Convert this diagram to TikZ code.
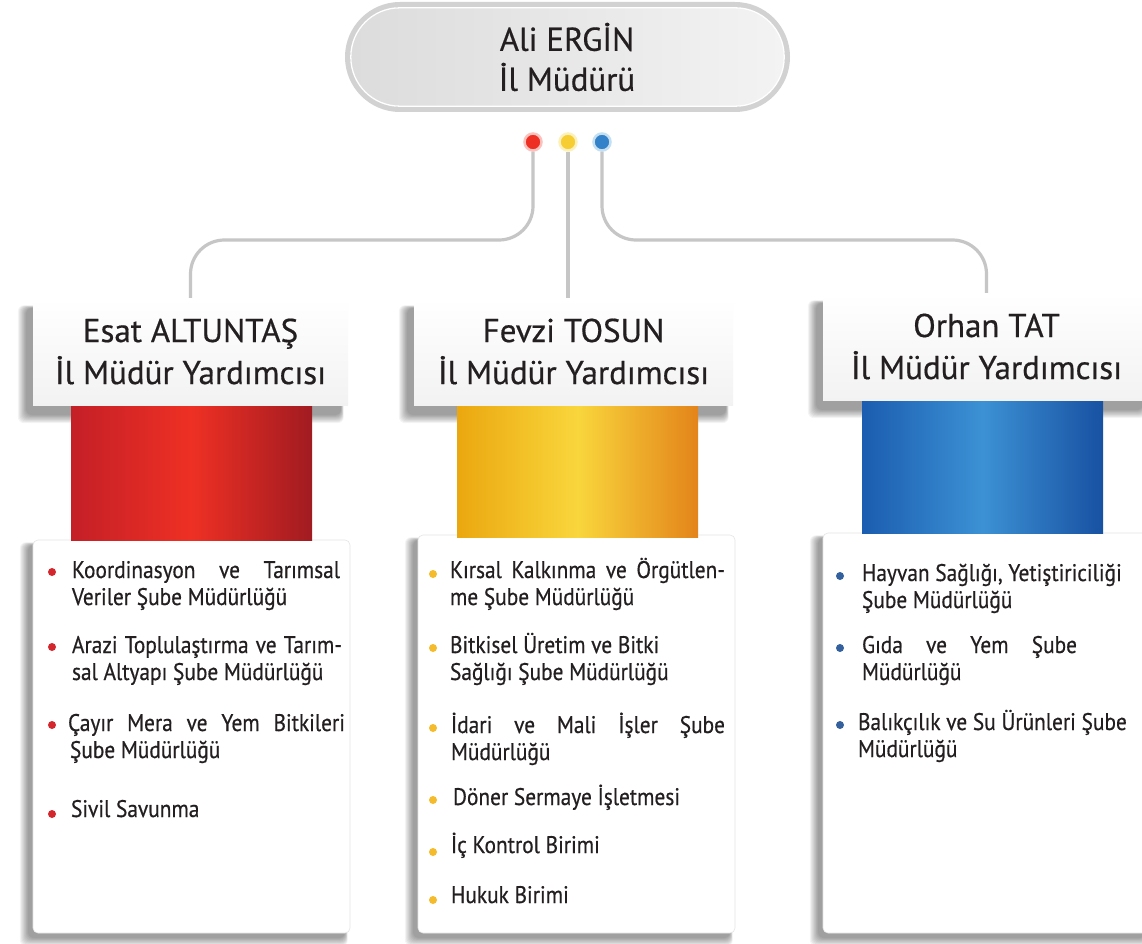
\documentclass[tikz,border=0pt]{standalone}
\usepackage{fontspec}
\setmainfont{PT Sans}
\newfontfamily\cardfont[FakeStretch=0.89,FakeBold=0.5]{PT Sans}
\newfontfamily\headfont[FakeBold=0.5]{PT Sans}
\usetikzlibrary{calc}
\definecolor{txt}{HTML}{231F20}
\definecolor{connc}{HTML}{C6C6C6}
\definecolor{redA}{HTML}{C41F27}\definecolor{redB}{HTML}{EE3024}\definecolor{redC}{HTML}{A11B21}
\definecolor{yelA}{HTML}{EBA70F}\definecolor{yelB}{HTML}{F9D63C}\definecolor{yelC}{HTML}{E3841A}
\definecolor{bluA}{HTML}{1B5DB0}\definecolor{bluB}{HTML}{3C91D4}\definecolor{bluC}{HTML}{1851A2}
\definecolor{bRed}{HTML}{D3262D}\definecolor{bYel}{HTML}{F4BC2C}\definecolor{bBlu}{HTML}{34619E}
\definecolor{pillring}{HTML}{D2D2D2}\definecolor{pillL}{HTML}{DCDCDC}\definecolor{pillR}{HTML}{F3F3F3}
\newcommand\softshadow[6]{%
  \foreach \k in {0,...,9}{%
    \fill[black,opacity=0.045,rounded corners=6]
      ({#1+#5-\k*0.9},{#2+#6-\k*0.3}) rectangle ({#3+#5+\k*0.3},{#4+#6+\k*0.9});}}
\tikzset{
  head/.style={inner sep=0, top color=white, bottom color=black!5, minimum height=107,
    align=center, font=\headfont\fontsize{33}{42}\selectfont, text=txt},
  card/.style={fill=white, draw=black!10, line width=0.6, rounded corners=5, inner sep=0},
  bar/.style={inner sep=0, minimum height=135},
  ln/.style={anchor=base west, inner sep=0, outer sep=0, font=\cardfont\fontsize{24}{27}\selectfont, text=txt},
  blt/.style={circle, inner sep=0, minimum size=8},
  dotn/.style={circle, inner sep=0, minimum size=17, line width=2.5},
  conn/.style={draw=connc, line width=3.2, rounded corners=34}
}
\begin{document}
\begin{tikzpicture}[x=1pt,y=-1pt]
\useasboundingbox[fill=white] (0,0) rectangle (1142,944);
% card shadows and cards
\softshadow{33}{540}{350}{933}{-5}{5}
\softshadow{418}{535}{735}{933}{-5}{5}
\softshadow{823}{533}{1150}{933}{-5}{5}
\node[card, minimum width=317, minimum height=393] (c1) at (191.5,736.5) {};
\node[card, minimum width=317, minimum height=398] (c2) at (576.5,734) {};
\node[card, minimum width=327, minimum height=400] (c3) at (986.5,733) {};
% header shadows
\softshadow{33}{298}{348}{405}{-7}{10}
\softshadow{414}{298}{733}{405}{-7}{10}
\softshadow{823}{293}{1150}{400}{-7}{10}
% bars
\node[bar, minimum width=241, left color=redA, right color=redC, middle color=redB] (b1) at (191.5,472.5) {};
\node[bar, minimum width=241, left color=yelA, right color=yelC, middle color=yelB] (b2) at (577.5,470) {};
\node[bar, minimum width=241, minimum height=133, left color=bluA, right color=bluC, middle color=bluB] (b3) at (982.5,466.5) {};
% headers
\node[head, minimum width=315] (h1) at (190.5,351.5) {Esat ALTUNTAŞ\\İl Müdür Yardımcısı};
\node[head, minimum width=319] (h2) at (573.5,351.5) {Fevzi TOSUN\\İl Müdür Yardımcısı};
\node[head, minimum width=327] (h3) at (986.5,346.5) {Orhan TAT\\İl Müdür Yardımcısı};
% pill
\node[inner sep=0, fill=pillring, rounded corners=55, minimum width=445, minimum height=110] (pill) at (567.5,57) {};
\fill[left color=pillL, right color=pillR, rounded corners=49]
  ($(pill.south west)+(6,-6)$) rectangle ($(pill.north east)+(-6,6)$);
\draw[white, line width=1.3, rounded corners=49]
  ($(pill.south west)+(6,-6)$) rectangle ($(pill.north east)+(-6,6)$);
\node[align=center, inner sep=0, font=\headfont\fontsize{33}{40}\selectfont, text=txt] (pillt) at (567,57) {Ali ERGİN\\İl Müdürü};
% dots
\node[dotn, fill=redB, draw=redB!30] (rd) at (533,142) {};
\node[dotn, fill=yelB!80!yelA, draw=yelB!35] (yd) at (568,142) {};
\node[dotn, fill=bluB!70!bluA, draw=bluB!30] (bd) at (602,142) {};
% connectors
\coordinate (hl) at (0,240);
\draw[conn] (rd.south) -- (rd.south |- hl) -- (h1.north |- hl) -- (h1.north);
\draw[conn] (yd.south) -- (yd.south |- h2.north);
\draw[conn] (bd.south) -- (bd.south |- hl) -- (h3.north |- hl) -- (h3.north);
% left card items
\node[blt, fill=bRed] (r1) at (52,572) {};
\node[ln] (l1a) at (72,578) {\makebox[268pt][s]{Koordinasyon ve Tarımsal}};
\node[ln] (l1b) at (72,605) {Veriler Şube Müdürlüğü};
\node[blt, fill=bRed] (r2) at (52,647) {};
\node[ln] (l2a) at (72,653) {\makebox[270pt][s]{Arazi Toplulaştırma ve Tarım-}};
\node[ln] (l2b) at (72,680) {sal Altyapı Şube Müdürlüğü};
\node[blt, fill=bRed] (r3) at (52,725) {};
\node[ln] (l3a) at (68,731) {\makebox[277pt][s]{Çayır Mera ve Yem Bitkileri}};
\node[ln] (l3b) at (70,758) {Şube Müdürlüğü};
\node[blt, fill=bRed] (r4) at (52,814) {};
\node[ln] (l4a) at (71,817) {Sivil Savunma};
% middle card items
\node[blt, fill=bYel] (y1) at (433,574) {};
\node[ln] (m1a) at (450,578) {\makebox[275pt][s]{Kırsal Kalkınma ve Örgütlen-}};
\node[ln] (m1b) at (450,605) {me Şube Müdürlüğü};
\node[blt, fill=bYel] (y2) at (433,648) {};
\node[ln] (m2a) at (450,653) {Bitkisel Üretim ve Bitki};
\node[ln] (m2b) at (450,680) {Sağlığı Şube Müdürlüğü};
\node[blt, fill=bYel] (y3) at (433,728) {};
\node[ln] (m3a) at (451,733) {\makebox[274pt][s]{İdari ve Mali İşler Şube}};
\node[ln] (m3b) at (451,760) {Müdürlüğü};
\node[blt, fill=bYel] (y4) at (433,800) {};
\node[ln] (m4a) at (453,805) {Döner Sermaye İşletmesi};
\node[blt, fill=bYel] (y5) at (433,852) {};
\node[ln] (m5a) at (451,853) {İç Kontrol Birimi};
\node[blt, fill=bYel] (y6) at (433,900) {};
\node[ln] (m6a) at (451,903) {Hukuk Birimi};
% right card items
\node[blt, fill=bBlu] (u1) at (840,576) {};
\node[ln] (n1a) at (862,581) {Hayvan Sağlığı, Yetiştiriciliği};
\node[ln] (n1b) at (862,608) {Şube Müdürlüğü};
\node[blt, fill=bBlu] (u2) at (840,648) {};
\node[ln] (n2a) at (862,653) {\makebox[215pt][s]{Gıda ve Yem Şube}};
\node[ln] (n2b) at (862,680) {Müdürlüğü};
\node[blt, fill=bBlu] (u3) at (840,725) {};
\node[ln] (n3a) at (858,730) {Balıkçılık ve Su Ürünleri Şube};
\node[ln] (n3b) at (858,757) {Müdürlüğü};
\end{tikzpicture}
\end{document}
